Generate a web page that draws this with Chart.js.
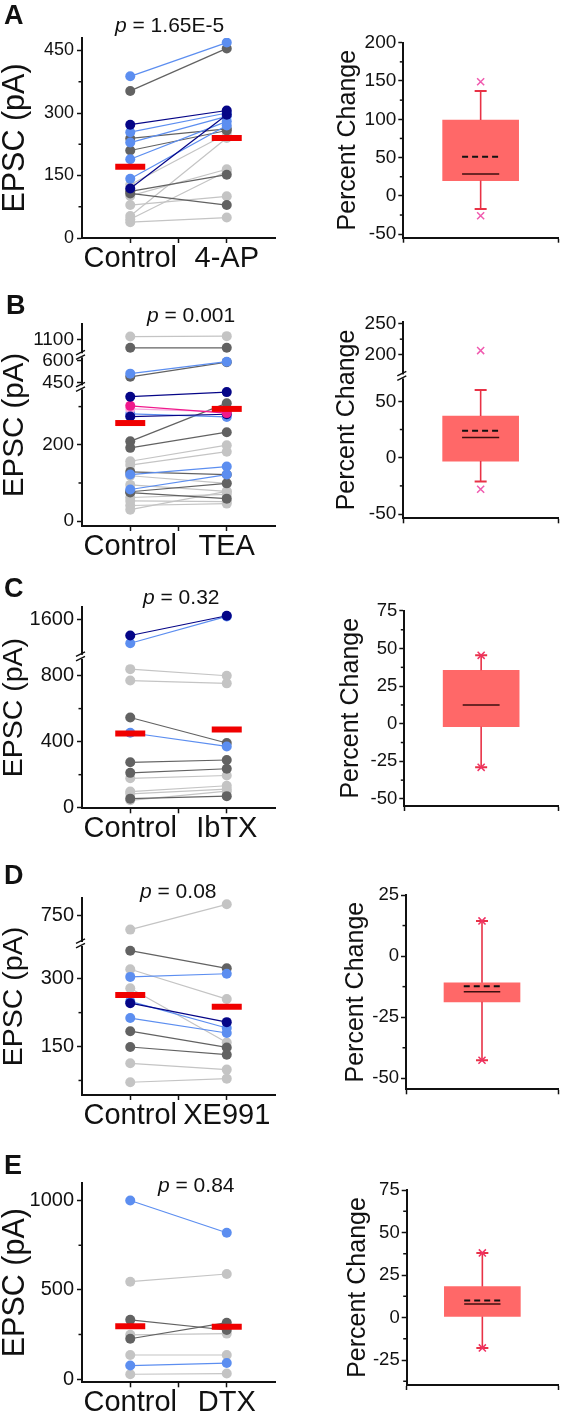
<!DOCTYPE html>
<html><head><meta charset="utf-8">
<script src="https://cdn.jsdelivr.net/npm/chart.js@4.4.1/dist/chart.umd.min.js"></script>
<style>
html,body{margin:0;padding:0;background:#fff;}
#root{position:relative;width:566px;height:1416px;overflow:hidden;background:#fff;font-family:"Liberation Sans",Arial,sans-serif;color:#111;}
canvas{position:absolute;}
.lbl{position:absolute;font-weight:bold;font-size:27px;line-height:27px;white-space:nowrap;}
.pv{position:absolute;font-size:21px;line-height:21px;white-space:nowrap;}
</style></head><body><div id="root"></div>
<script>
// ---------------- DATA ----------------
const panelLetters = ['A','B','C','D','E'];
const pValues = ['1.65E-5','0.001','0.32','0.08','0.84'];
const controlName = 'Control';
const treatmentNames = ['4-AP','TEA','IbTX','XE991','DTX'];

// EPSC amplitudes (pA), one entry per cell; group = colour class of the cell
const A_control = [388, 353, 272, 254, 239, 229, 210, 189, 142, 128, 119, 112, 107, 101, 79, 53, 45, 38];
const A_treated = [469, 455, 306, 300, 262, 292, 258, 280, 270, 250, 296, 152, 79, 165, 100, 240, 160, 49];
const A_group   = ['lb','dg','nv','lb','dg','lb','dg','lb','lb','lg','nv','dg','dg','lg','lg','lg','lg','lg'];

const B_control = [1122, 1044, 510, 488, 326, 302, 294, 281, 274, 209, 192, 157, 147, 129, 122, 119, 95, 83, 77, 75, 62, 53, 41, 30];
const B_treated = [1125, 1044, 593, 590, 338, 283, 286, 273, 280, 309, 233, 199, 182, 122, 143, 99, 78, 122, 99, 59, 70, 51, 46, 78];
const B_group   = ['lg','dg','lb','dg','nv','pk','pp','lb','nv','dg','dg','lg','lg','dg','lb','lg','lg','lb','dg','dg','lg','lg','lg','lg'];

const C_control = [1325, 1194, 839, 770, 546, 454, 275, 211, 178, 98, 84, 55, 45];
const C_treated = [1661, 1650, 799, 753, 392, 371, 289, 236, 195, 133, 113, 70, 100];
const C_group   = ['nv','lb','lg','lg','dg','lb','dg','dg','lg','lg','lg','dg','lg'];

const D_control = [674, 362, 321, 304, 279, 250, 246, 213, 184, 149, 113, 71];
const D_treated = [812, 323, 255, 311, 159, 191, 204, 180, 148, 132, 99, 79];
const D_group   = ['lg','dg','lg','lb','lg','lb','nv','lb','dg','dg','lg','lg'];

const E_control = [1001, 546, 332, 226, 248, 135, 76, 27];
const E_treated = [820, 589, 275, 316, 255, 135, 90, 31];
const E_group   = ['lb','lg','dg','dg','lg','lg','lb','lg'];

const meanControl = [171, 257, 450, 264, 296];
const meanTreated = [240, 294, 473, 238, 293];

const leftTicks      = [[0,150,300,450],[0,200,450,600,1100],[0,400,800,1600],[150,300,750],[0,500,1000]];
const leftMinorTicks = [[75,225,375],[100,300],[200,600],[75,225],[250,750]];

// Percent change box plots, panels A..E
const pctWhiskerLow  = [-17, -21, -29, -42.6, -17.9];
const pctQ1          = [20, -3, -2, -18.7, 0.6];
const pctMedian      = [28.5, 18, 12.5, -14.6, 8];
const pctQ3          = [99, 37, 35.5, -10.9, 18.2];
const pctWhiskerHigh = [137, 60, 45.5, 14.4, 38];
const pctMean        = [51, 24, null, -12.3, 10];
const pctExtremes    = [[149,-26],[207,-28],[45.5,-29],[14.4,-42.6],[38,-17.9]];

const rightTicks      = [[-50,0,50,100,150,200],[-50,0,50,200,250],[-50,-25,0,25,50,75],[-50,-25,0,25],[-25,0,25,50,75]];
const rightMinorTicks = [[-25,25,75,125,175],[-25,25,225],[-37.5,-12.5,12.5,37.5,62.5],[-37.5,-12.5,12.5],[-37.5,-12.5,12.5,37.5,62.5]];

// ---------------- STYLE / LAYOUT ----------------
const FONT = '"Liberation Sans", Arial, sans-serif';
const INK = '#111';
const COLORS = {lg:'rgb(196,196,196)', dg:'rgb(98,98,98)', lb:'rgb(92,142,240)', nv:'rgb(5,5,135)', pk:'rgb(240,25,140)', pp:'rgb(246,168,222)'};
const DRAW_ORDER = {lg:6, dg:5, lb:4, pp:4, nv:3, pk:3};
const MEAN_RED = 'rgb(240,0,0)';
const BOX_FILL = 'rgb(255,104,104)';
const WHISKER = 'rgb(232,50,70)';
const EXTREME = ['rgb(240,90,175)','rgb(240,90,175)','rgb(240,50,100)','rgb(240,50,100)','rgb(240,50,100)'];
const catPos = [1, 3];
const boxPos = 1;
const BOX_HALF = 0.48;

// axis geometry (pixel frame); pieces = broken-axis segments [valueFrom, valueTo, dispFrom, dispTo]
const LEFT = [
  {top:31.1, bottom:238, min:0, max:480, pieces:null, tickFont:18, titleFont:30.5},
  {top:317, bottom:526, min:-5, max:204, pieces:[[0,345,0,136.3],[430,630,140.7,170.5],[1000,1220,172.8,205.6]], tickFont:19, titleFont:29.5},
  {top:600, bottom:808.3, min:-0.6, max:207.8, pieces:[[0,900,0,153.9],[1000,1810,158.5,207.8]], tickFont:20, titleFont:28.5},
  {top:891.7, bottom:1095, min:20, max:223.3, pieces:[[0,375,0,175],[600,900,176.7,233.4]], tickFont:20, titleFont:28.5},
  {top:1176.7, bottom:1382.3, min:-18, max:1099, pieces:null, tickFont:20, titleFont:30.5}
];
const RIGHT = [
  {top:42.7, bottom:237.7, axis:403.3, right:560, min:-54.6, max:200, pieces:null, tickFont:19, titlePad:45.8},
  {top:321.7, bottom:518.3, axis:403.3, right:559, min:-60.6, max:136, pieces:[[-55,70,-62,78.9],[170,260,83.7,140.7]], tickFont:19, titlePad:44.5},
  {top:610.5, bottom:806, axis:404.3, right:560, min:-54.7, max:75.3, pieces:null, tickFont:18.5, titlePad:48.5},
  {top:895, bottom:1089.3, axis:406, right:561.7, min:-54.5, max:25, pieces:null, tickFont:18.5, titlePad:53.5},
  {top:1190, bottom:1385, axis:406.7, right:563, min:-39.7, max:75, pieces:null, tickFont:18.5, titlePad:55.5}
];
const LETTER_POS = [[4,2],[6,292],[4,575],[4,862],[4,1152]];
const P_POS = [[115,14],[147,304],[143,586],[140,880],[158,1174]];

const subjects = [[A_control,A_treated,A_group],[B_control,B_treated,B_group],[C_control,C_treated,C_group],[D_control,D_treated,D_group],[E_control,E_treated,E_group]];

// ---------------- piecewise (broken) scale ----------------
const PIECES = {};
const DECOR = {};
function mapPieces(P, v) {
  if (!P || v === null || v === undefined || isNaN(v)) return v;
  const seg = ([r0,r1,d0,d1]) => d0 + (v - r0) * (d1 - d0) / (r1 - r0);
  for (const p of P) if (v >= p[0] && v <= p[1]) return seg(p);
  if (v < P[0][0]) return seg(P[0]);
  for (let k = 0; k < P.length - 1; k++) {
    if (v > P[k][1] && v < P[k+1][0]) return P[k][3] + (v - P[k][1]) * (P[k+1][2] - P[k][3]) / (P[k+1][0] - P[k][1]);
  }
  return seg(P[P.length-1]);
}
class PiecewiseScale extends Chart.LinearScale {
  static id = 'piecewise';
  getPixelForValue(v) {
    const P = PIECES[this.chart.canvas.id];
    return super.getPixelForValue(mapPieces(P, v));
  }
}
Chart.register(PiecewiseScale);

const decorPlugin = {
  id: 'decor',
  afterDraw(chart) {
    const d = DECOR[chart.canvas.id];
    if (!d) return;
    const ys = chart.scales.y, ctx = chart.ctx, ax = chart.chartArea.left;
    ctx.save();
    ctx.strokeStyle = INK; ctx.lineWidth = 1.5;
    for (const v of d.minor) {
      const py = ys.getPixelForValue(v);
      ctx.beginPath(); ctx.moveTo(ax - 3.5, py); ctx.lineTo(ax, py); ctx.stroke();
    }
    const P = PIECES[chart.canvas.id];
    if (P) {
      for (let k = 0; k < P.length - 1; k++) {
        const m = (ys.getPixelForValue(P[k][1]) + ys.getPixelForValue(P[k+1][0])) / 2;
        ctx.fillStyle = '#fff';
        ctx.fillRect(ax - 2, m - 2, 4, 4);
        ctx.lineWidth = 1.4;
        ctx.beginPath();
        ctx.moveTo(ax - 6, m - 0.5); ctx.lineTo(ax + 3, m - 5);
        ctx.moveTo(ax - 6, m + 4); ctx.lineTo(ax + 3, m - 0.5);
        ctx.stroke();
      }
    }
    ctx.restore();
  }
};
Chart.register(decorPlugin);

const root = document.getElementById('root');
function makeCanvas(id, x, y, w, h) {
  const c = document.createElement('canvas');
  c.id = id; c.width = w; c.height = h;
  c.style.left = x + 'px'; c.style.top = y + 'px';
  c.style.width = w + 'px'; c.style.height = h + 'px';
  root.appendChild(c);
  return c;
}
const gridOpts = {drawOnChartArea:false, drawTicks:true, tickLength:5, tickWidth:1.5, tickColor:INK};
const borderOpts = {display:true, color:INK, width:2};
const baseOpts = {responsive:false, animation:false, devicePixelRatio:1, events:[],
  plugins:{legend:{display:false}, tooltip:{enabled:false}}};

function leftChart(i) {
  const L = LEFT[i];
  const cy = Math.floor(L.top) - 14;
  const cb = Math.ceil(L.bottom) + 40;
  const id = 'L' + i;
  const c = makeCanvas(id, 0, cy, 296, cb - cy);
  PIECES[id] = L.pieces;
  DECOR[id] = {minor: leftMinorTicks[i]};
  const [ctrl, trt, grp] = subjects[i];
  const ds = [{
    type:'line', showLine:false, order:0,
    data:[{x:catPos[0], y:meanControl[i]}, {x:catPos[1], y:meanTreated[i]}],
    pointStyle:'line', pointRadius:15, pointBorderWidth:6, pointBorderColor:MEAN_RED, pointBackgroundColor:MEAN_RED
  }];
  ctrl.forEach((v, k) => {
    const col = COLORS[grp[k]];
    ds.push({type:'line', order:DRAW_ORDER[grp[k]],
      data:[{x:catPos[0], y:v}, {x:catPos[1], y:trt[k]}],
      borderColor:col, backgroundColor:col, borderWidth:1.2,
      pointRadius:5, pointBorderWidth:0, pointBackgroundColor:col});
  });
  const xTicks = [catPos[0], (catPos[0] + catPos[1]) / 2, catPos[1]];
  new Chart(c, {type:'line', data:{datasets:ds}, options:Object.assign({}, baseOpts, {
    layout:{padding:{top:L.top - cy, right:4, left:0, bottom:0}},
    scales:{
      x:{type:'linear', min:0, max:catPos[1] + 1, bounds:'data',
        afterBuildTicks:s => { s.ticks = xTicks.map(v => ({value:v})); },
        ticks:{callback:v => v === catPos[0] ? controlName : (v === catPos[1] ? treatmentNames[i] : ''),
          font:{family:FONT, size:29, lineHeight:1}, color:INK, padding:1, maxRotation:0, autoSkip:false},
        grid:gridOpts, border:borderOpts,
        afterFit:s => { s.height = cb - L.bottom; }},
      y:{type:'piecewise', min:L.min, max:L.max, bounds:'data',
        afterBuildTicks:s => { s.ticks = leftTicks[i].map(v => ({value:v})); },
        ticks:{callback:v => String(v), font:{family:FONT, size:L.tickFont}, color:INK, padding:3, autoSkip:false},
        grid:gridOpts, border:borderOpts,
        title:{display:true, text:'EPSC (pA)', color:INK, font:{family:FONT, size:L.titleFont, lineHeight:1}, padding:{top:0, bottom:0}},
        afterFit:s => { s.width = 82; }}
    }})});
}

function rightChart(i) {
  const R = RIGHT[i];
  const cy = Math.floor(R.top) - 14;
  const cb = Math.ceil(R.bottom) + 14;
  const id = 'R' + i;
  const c = makeCanvas(id, 290, cy, 276, cb - cy);
  PIECES[id] = R.pieces;
  DECOR[id] = {minor: rightMinorTicks[i]};
  const ds = [];
  ds.push({type:'line', showLine:false, order:0,
    data:pctExtremes[i].map(v => ({x:boxPos, y:v})),
    pointStyle:'crossRot', pointRadius:5, pointBorderWidth:1.5, pointBorderColor:EXTREME[i], pointBackgroundColor:EXTREME[i]});
  if (pctMean[i] !== null) {
    ds.push({type:'line', order:1, data:[{x:boxPos - BOX_HALF, y:pctMean[i]}, {x:boxPos + BOX_HALF, y:pctMean[i]}],
      borderColor:INK, borderWidth:2, borderDash:[6,4], pointRadius:0});
  }
  ds.push({type:'line', order:2, data:[{x:boxPos - BOX_HALF, y:pctMedian[i]}, {x:boxPos + BOX_HALF, y:pctMedian[i]}],
    borderColor:'rgb(60,15,15)', borderWidth:1.5, pointRadius:0});
  ds.push({type:'line', showLine:false, order:3,
    data:[{x:boxPos, y:pctWhiskerLow[i]}, {x:boxPos, y:pctWhiskerHigh[i]}],
    pointStyle:'line', pointRadius:6, pointBorderWidth:2, pointBorderColor:WHISKER, pointBackgroundColor:WHISKER});
  ds.push({type:'line', order:4, data:[{x:boxPos, y:pctQ3[i]}, {x:boxPos, y:pctWhiskerHigh[i]}],
    borderColor:WHISKER, borderWidth:1.6, pointRadius:0});
  ds.push({type:'line', order:4, data:[{x:boxPos, y:pctQ1[i]}, {x:boxPos, y:pctWhiskerLow[i]}],
    borderColor:WHISKER, borderWidth:1.6, pointRadius:0});
  ds.push({type:'bar', order:10, data:[{x:boxPos, y:[pctQ1[i], pctQ3[i]]}],
    backgroundColor:BOX_FILL, borderWidth:0, barThickness:76});
  new Chart(c, {type:'line', data:{datasets:ds}, options:Object.assign({}, baseOpts, {
    layout:{padding:{top:R.top - cy, right:566 - R.right, left:0, bottom:0}},
    scales:{
      x:{type:'linear', min:0, max:boxPos * 2, bounds:'data',
        afterBuildTicks:s => { s.ticks = [{value:boxPos}]; },
        ticks:{callback:() => '', font:{family:FONT, size:10}, padding:0, maxRotation:0, autoSkip:false},
        grid:gridOpts, border:borderOpts,
        afterFit:s => { s.height = cb - R.bottom; }},
      y:{type:'piecewise', min:R.min, max:R.max, bounds:'data',
        afterBuildTicks:s => { s.ticks = rightTicks[i].map(v => ({value:v})); },
        ticks:{callback:v => String(v), font:{family:FONT, size:R.tickFont}, color:INK, padding:2, autoSkip:false},
        grid:gridOpts, border:borderOpts,
        title:{display:true, text:'Percent Change', color:INK, font:{family:FONT, size:25, lineHeight:1}, padding:{top:R.titlePad, bottom:0}},
        afterFit:s => { s.width = R.axis - 290; }}
    }})});
}

for (let i = 0; i < 5; i++) {
  leftChart(i);
  rightChart(i);
  const l = document.createElement('div');
  l.className = 'lbl'; l.textContent = panelLetters[i];
  l.style.left = LETTER_POS[i][0] + 'px'; l.style.top = LETTER_POS[i][1] + 'px';
  root.appendChild(l);
  const p = document.createElement('div');
  p.className = 'pv';
  const it = document.createElement('i'); it.textContent = 'p';
  p.appendChild(it); p.appendChild(document.createTextNode(' = ' + pValues[i]));
  p.style.left = P_POS[i][0] + 'px'; p.style.top = P_POS[i][1] + 'px';
  root.appendChild(p);
}
</script></body></html>
